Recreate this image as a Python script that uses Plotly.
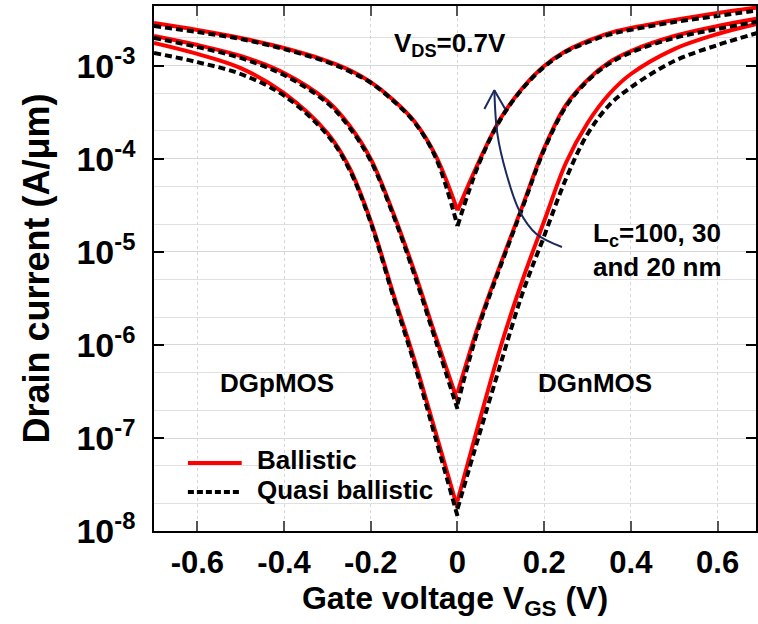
import plotly.graph_objects as go

# Gate-voltage sampling (V) for the pMOS (left) and nMOS (right) branches
vgs_left = [-0.7, -0.6, -0.5, -0.4, -0.3, -0.25, -0.2, -0.15, -0.1, -0.05, 0.0]
vgs_right = [0.0, 0.05, 0.1, 0.15, 0.2, 0.25, 0.3, 0.35, 0.4, 0.5, 0.6, 0.7]

# Drain current (A/um), Lc = 20 nm
ball_20_left = [2.90e-3, 2.44e-3, 2.00e-3, 1.56e-3, 1.13e-3, 9.1e-4, 6.7e-4, 4.4e-4, 2.56e-4, 1.08e-4, 2.8e-5]
ball_20_right = [2.8e-5, 9.5e-5, 2.76e-4, 5.8e-4, 1.0e-3, 1.45e-3, 1.86e-3, 2.26e-3, 2.56e-3, 3.12e-3, 3.72e-3, 4.31e-3]
quasi_20_left = [2.69e-3, 2.32e-3, 1.95e-3, 1.52e-3, 1.10e-3, 8.8e-4, 6.6e-4, 4.3e-4, 2.5e-4, 1.03e-4, 1.9e-5]
quasi_20_right = [1.9e-5, 9.0e-5, 2.7e-4, 5.7e-4, 9.8e-4, 1.42e-3, 1.80e-3, 2.18e-3, 2.45e-3, 2.97e-3, 3.45e-3, 4.0e-3]

# Drain current (A/um), Lc = 30 nm
ball_30_left = [2.10e-3, 1.68e-3, 1.28e-3, 8.4e-4, 4.2e-4, 2.32e-4, 1.0e-4, 2.76e-5, 6.3e-6, 1.22e-6, 2.5e-7]
ball_30_right = [3.05e-7, 1.73e-6, 7.6e-6, 3.13e-5, 1.31e-4, 3.8e-4, 7.1e-4, 1.10e-3, 1.45e-3, 2.10e-3, 2.69e-3, 3.28e-3]
quasi_30_left = [2.00e-3, 1.60e-3, 1.22e-3, 8.0e-4, 4.0e-4, 2.21e-4, 9.5e-5, 2.62e-5, 5.8e-6, 1.10e-6, 2.05e-7]
quasi_30_right = [2.3e-7, 1.6e-6, 7.2e-6, 3.0e-5, 1.26e-4, 3.65e-4, 6.9e-4, 1.06e-3, 1.40e-3, 2.0e-3, 2.5e-3, 3.05e-3]

# Drain current (A/um), Lc = 100 nm
ball_100_left = [1.77e-3, 1.35e-3, 9.5e-4, 5.1e-4, 1.9e-4, 8.2e-5, 2.15e-5, 3.8e-6, 7.1e-7, 1.13e-7, 1.77e-8]
ball_100_right = [2.1e-8, 1.49e-7, 9.75e-7, 5.0e-6, 2.15e-5, 9.06e-5, 2.44e-4, 5.0e-4, 8.2e-4, 1.52e-3, 2.21e-3, 2.90e-3]
quasi_100_left = [1.38e-3, 1.10e-3, 8.2e-4, 4.8e-4, 1.81e-4, 7.8e-5, 2.05e-5, 3.53e-6, 6.4e-7, 9.75e-8, 1.45e-8]
quasi_100_right = [1.73e-8, 1.08e-7, 6.4e-7, 3.62e-6, 1.49e-5, 6.1e-5, 1.86e-4, 3.8e-4, 5.9e-4, 1.13e-3, 1.68e-3, 2.32e-3]

# Curved arrow indicating decreasing channel length
arrow_vgs = [0.241, 0.182, 0.143, 0.113, 0.092, 0.085]
arrow_id = [1.13e-5, 1.56e-5, 2.76e-5, 6.9e-5, 1.86e-4, 5.5e-4]
arrowhead_vgs = [0.062, 0.085, 0.110]
arrowhead_id = [3.45e-4, 5.5e-4, 3.45e-4]

# Axis ticks
x_ticks = [-0.6, -0.4, -0.2, 0.0, 0.2, 0.4, 0.6]
x_ticktext = ["-0.6", "-0.4", "-0.2", "0", "0.2", "0.4", "0.6"]
y_ticks = [1e-8, 1e-7, 1e-6, 1e-5, 1e-4, 1e-3]
y_ticktext = ["10<sup>-8</sup>", "10<sup>-7</sup>", "10<sup>-6</sup>", "10<sup>-5</sup>",
              "10<sup>-4</sup>", "10<sup>-3</sup>"]

FONT = "Liberation Sans, Arial, sans-serif"
RED = "#ff0000"
BLACK = "#000000"
NAVY = "#1b2a5c"
QUASI_DASH = "7px,4px"

fig = go.Figure()

ballistic = [(ball_20_left, ball_20_right), (ball_30_left, ball_30_right), (ball_100_left, ball_100_right)]
quasi = [(quasi_20_left, quasi_20_right), (quasi_30_left, quasi_30_right), (quasi_100_left, quasi_100_right)]

for left, right in ballistic:
    for xs, ys in ((vgs_left, left), (vgs_right, right)):
        fig.add_trace(go.Scatter(
            x=xs, y=ys, mode="lines", name="Ballistic", showlegend=False,
            line=dict(color=RED, width=4, shape="spline", smoothing=1.0),
        ))

for left, right in quasi:
    for xs, ys in ((vgs_left, left), (vgs_right, right)):
        fig.add_trace(go.Scatter(
            x=xs, y=ys, mode="lines", name="Quasi ballistic", showlegend=False,
            line=dict(color=BLACK, width=4, dash=QUASI_DASH, shape="spline", smoothing=1.0),
        ))

fig.add_trace(go.Scatter(
    x=arrow_vgs, y=arrow_id, mode="lines", showlegend=False, hoverinfo="skip",
    line=dict(color=NAVY, width=2, shape="spline", smoothing=1.0),
))
fig.add_trace(go.Scatter(
    x=arrowhead_vgs, y=arrowhead_id, mode="lines", showlegend=False, hoverinfo="skip",
    line=dict(color=NAVY, width=2),
))

# In-plot key: line samples plus labels
fig.add_shape(type="line", xref="paper", yref="paper", x0=0.0563, x1=0.1457, y0=0.1295, y1=0.1295,
              line=dict(color=RED, width=4))
fig.add_shape(type="line", xref="paper", yref="paper", x0=0.0563, x1=0.1457, y0=0.0743, y1=0.0743,
              line=dict(color=BLACK, width=4, dash="6px,3px"))

label_font = dict(family=FONT, size=26, color="black", weight="bold")
annotations = [
    dict(x=0.1672, y=0.1352, text="Ballistic", xanchor="left", yanchor="middle"),
    dict(x=0.1672, y=0.0781, text="Quasi ballistic", xanchor="left", yanchor="middle"),
    dict(x=0.492, y=0.926, text="V<sub>DS</sub>=0.7V", xanchor="center", yanchor="middle"),
    dict(x=0.726, y=0.536, text="L<sub>c</sub>=100, 30<br>and 20 nm", xanchor="left",
         yanchor="middle", align="left"),
    dict(x=0.205, y=0.281, text="DGpMOS", xanchor="center", yanchor="middle"),
    dict(x=0.732, y=0.281, text="DGnMOS", xanchor="center", yanchor="middle"),
]
for a in annotations:
    fig.add_annotation(xref="paper", yref="paper", showarrow=False, font=label_font, **a)

fig.update_layout(
    width=758, height=624,
    margin=dict(l=154, r=0, t=6, b=93),
    paper_bgcolor="white", plot_bgcolor="white",
    font=dict(family=FONT, color="black", weight="bold"),
    showlegend=False,
    xaxis=dict(
        range=[-0.7, 0.6885],
        tickmode="array", tickvals=x_ticks, ticktext=x_ticktext,
        ticks="inside", ticklen=10, tickwidth=1.5, tickcolor="#555555",
        showline=True, linecolor="black", linewidth=1.5, mirror="ticks",
        showgrid=True, gridcolor="#d6d6d6", gridwidth=1, griddash="dot",
        zeroline=False, ticklabelstandoff=3,
        tickfont=dict(family=FONT, size=31, color="black", weight="bold"),
        title=dict(text="Gate voltage V<sub>GS</sub> (V)", standoff=0,
                   font=dict(family=FONT, size=32, color="black", weight="bold")),
    ),
    yaxis=dict(
        type="log", range=[-8, -2.355],
        tickmode="array", tickvals=y_ticks, ticktext=y_ticktext,
        ticks="inside", ticklen=10, tickwidth=1.5, tickcolor="black",
        showline=True, linecolor="black", linewidth=1.5, mirror="ticks",
        showgrid=True, gridcolor="#d8d8d8", gridwidth=1,
        minor=dict(showgrid=True, gridcolor="#e0e0e0", gridwidth=1, ticks=""),
        zeroline=False, ticklabelstandoff=10,
        tickfont=dict(family=FONT, size=34, color="black", weight="bold"),
        title=dict(text="Drain current (A/μm)", standoff=16,
                   font=dict(family=FONT, size=36, color="black", weight="bold")),
    ),
)

fig.write_html("out.html")
